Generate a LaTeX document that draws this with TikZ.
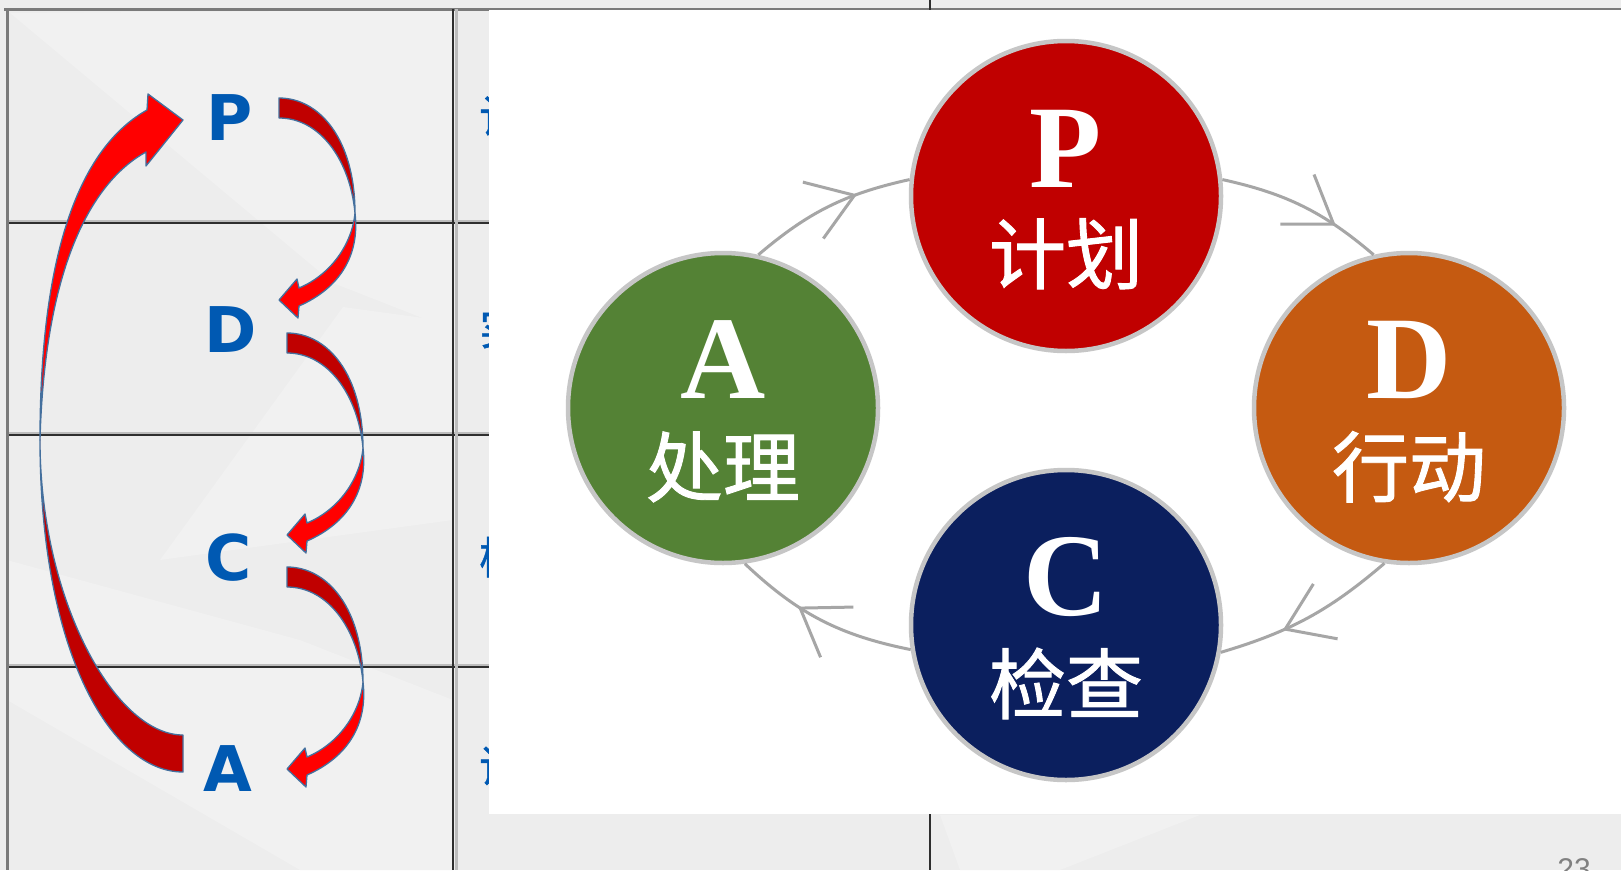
\documentclass[tikz,border=0pt]{standalone}
\usepackage{fontspec}
\usetikzlibrary{arrows.meta,decorations.markings}
\newfontfamily\cjkfont{Noto Sans CJK SC}
\newfontfamily\cjkheavy[FakeBold=1.2]{Noto Sans CJK SC}
\newfontfamily\sansfam{DejaVu Sans}
\newfontfamily\seriffam{Liberation Serif}
\newfontfamily\pagefam{Liberation Sans}
\definecolor{bg}{HTML}{EDEDED}
\definecolor{lightbg}{HTML}{F1F1F1}
\definecolor{letterblue}{HTML}{0059B2}
\definecolor{darkred}{HTML}{C00000}
\definecolor{brightred}{HTML}{FF0000}
\definecolor{outlineblue}{HTML}{44709E}
\definecolor{pred}{HTML}{C00000}
\definecolor{dorange}{HTML}{C55A11}
\definecolor{cnavy}{HTML}{0B1F5E}
\definecolor{agreen}{HTML}{548235}
\definecolor{rim}{HTML}{C6C6C6}
\definecolor{conngray}{HTML}{A6A6A6}
\definecolor{gridgray}{HTML}{7A7A7A}
\definecolor{griddark}{HTML}{2E2E2E}
\definecolor{gridshade}{HTML}{BDBDBD}
\begin{document}
\begin{tikzpicture}[x=1pt,y=-1pt,
  pdcircle/.style={circle, minimum size=310pt, draw=rim, line width=4.5pt, inner sep=0pt},
  bigletter/.style={text=white, font=\seriffam\bfseries\fontsize{118pt}{118pt}\selectfont, inner sep=0pt, anchor=base},
  cjklabel/.style={text=white, font=\cjkheavy\fontsize{77pt}{77pt}\selectfont, inner sep=0pt, anchor=base},
  pdletter/.style={text=letterblue, font=\sansfam\bfseries\fontsize{63pt}{63pt}\selectfont, inner sep=0pt, anchor=base},
  fragtext/.style={text=letterblue, font=\cjkheavy\fontsize{44pt}{44pt}\selectfont, inner sep=0pt, anchor=west},
  darkpart/.style={fill=darkred, draw=outlineblue, line width=1.3pt, line join=round},
  brightpart/.style={fill=brightred, draw=outlineblue, line width=1.3pt, line join=round},
  conn/.style={color=conngray, line width=3pt, postaction={decorate},
    decoration={markings, mark=at position #1 with {\arrow{Straight Barb[length=44pt,width=60pt]}}}},
  smallarrow/.pic={
    \path[darkpart] (279,98) .. controls (320,98) and (355,140) .. (355,213)
       .. controls (350,160) and (320,118) .. (279,118) -- cycle;
    \path[brightpart] (355,213) .. controls (360,255) and (340,288) .. (299,306)
       -- (298,318) -- (279,300) -- (297,279) -- (299,288)
       .. controls (330,275) and (352,245) .. (355,213) -- cycle;
  }
]
\clip (0,0) rectangle (1621,870);
\fill[bg] (0,0) rectangle (1621,870);
% subtle background facets
\fill[lightbg] (10,13) -- (333,283) -- (453,330) -- (453,10) -- cycle;
\fill[lightbg] (343,307) -- (453,322) -- (453,520) -- (160,560) -- cycle;
\fill[lightbg] (7,560) -- (300,640) -- (453,700) -- (453,870) -- (300,870) -- (7,700) -- cycle;
\fill[lightbg] (940,815) -- (1200,815) -- (1060,870) -- (960,870) -- cycle;

% table grid
\draw[gridgray, line width=3pt] (4,9) -- (1621,9);
\draw[gridgray, line width=3pt] (7,9) -- (7,870);
\foreach \yy in {223,435,667}{
  \draw[gridshade, line width=4pt] (9,\yy-1) -- (489,\yy-1);
  \draw[griddark, line width=2pt] (9,\yy) -- (489,\yy);
}
\draw[gridshade, line width=3pt] (456,9) -- (456,870);
\draw[griddark, line width=2pt] (453,9) -- (453,870);
\draw[griddark, line width=2pt] (930,0) -- (930,11);
\draw[griddark, line width=2pt] (930,814) -- (930,870);

% text hidden behind the picture
\node[fragtext] (f1) at (479,116) {计划};
\node[fragtext] (f2) at (479,328) {实施};
\node[fragtext] (f3) at (479,557) {检查};
\node[fragtext] (f4) at (479,766) {调整};

% white picture panel
\fill[white] (489,10) rectangle (1621,814);

% left column letters
\node[pdletter] (lP) at (230,140) {P};
\node[pdletter] (lD) at (231,352) {D};
\node[pdletter] (lC) at (229,580) {C};
\node[pdletter] (lA) at (228,791) {A};

% big return arrow A -> P
\path[darkpart] (183,735) -- (183,772) .. controls (110,772) and (40,650) .. (40,440)
   .. controls (40,600) and (115,735) .. (183,735) -- cycle;
\path[brightpart] (40,440) .. controls (40,240) and (85,145) .. (147,110)
   -- (148,94) -- (183,120) -- (146,166) -- (146,152)
   .. controls (95,180) and (45,260) .. (40,440) -- cycle;

% small arrows P->D, D->C, C->A
\pic (aPD) at (0,0) {smallarrow};
\pic (aDC) at (8,235) {smallarrow};
\pic (aCA) at (8,469) {smallarrow};

% PDCA circles
\node[pdcircle, fill=pred] (P) at (1066,196) {};
\node[pdcircle, fill=dorange] (D) at (1409,408) {};
\node[pdcircle, fill=cnavy] (C) at (1066,625) {};
\node[pdcircle, fill=agreen] (A) at (723,408) {};

\node[bigletter] (Pl) at (1066,187) {P};
\node[cjklabel] (Pc) at (1066,283) {计划};
\node[bigletter] (Dl) at (1409,398) {D};
\node[cjklabel] (Dc) at (1409,496) {行动};
\node[bigletter] (Cl) at (1066,615) {C};
\node[cjklabel] (Cc) at (1066,713) {检查};
\node[bigletter] (Al) at (723,398) {A};
\node[cjklabel] (Ac) at (723,496) {处理};

% connectors
\draw[conn=0.68] (A.77) to[bend left=14] (P.174);
\draw[conn=0.72] (P.6) to[bend left=14] (D.103);
\draw[conn=0.65] (D.261) to[bend left=12] (C.350);
\draw[conn=0.64] (C.189) to[bend left=16] (A.278);

% page number
\node[anchor=base, text=gray, font=\pagefam\fontsize{30pt}{30pt}\selectfont, inner sep=0pt] (pg) at (1574,879) {23};
\end{tikzpicture}
\end{document}
